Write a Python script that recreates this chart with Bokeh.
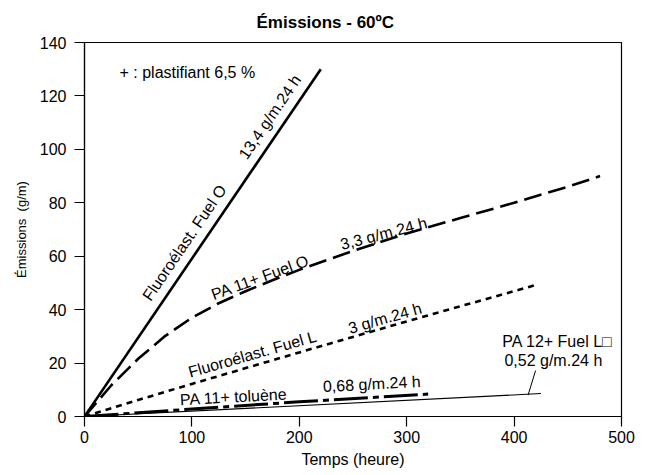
import math
from bokeh.plotting import figure
from bokeh.models import Range1d, FixedTicker
from bokeh.core.properties import value
from bokeh.embed import file_html
from bokeh.resources import INLINE

FONT = "Liberation Sans"

# ---- data ----
x_fluoro_o = [0, 220]
y_fluoro_o = [0, 130]

x_pa11_o = [0, 25, 50, 75, 100, 125, 150, 175, 200, 250, 300, 350, 400, 450, 480]
y_pa11_o = [0, 11.7, 21.6, 30.1, 37, 42.4, 46.9, 51, 54.9, 62, 68.5, 74.3, 80, 86, 90]

x_fluoro_l = [0, 50, 100, 200, 300, 421]
y_fluoro_l = [0, 6.2, 12.2, 24, 35.6, 49.3]

x_pa11_tol = [0, 100, 200, 320]
y_pa11_tol = [0, 2.8, 5.5, 8.4]

x_pa12_l = [0, 425]
y_pa12_l = [0, 8.6]

x_leader = [420, 413]
y_leader = [17.2, 8.0]

x_ticks = [0, 100, 200, 300, 400, 500]
y_ticks = [0, 20, 40, 60, 80, 100, 120, 140]

title_text = "Émissions - 60ºC"
x_label = "Temps (heure)"
y_label = "Émissions \u00a0(g/m)"
note_text = "+ : plastifiant 6,5 %"

# label texts, anchors (data), angles (deg)
lab_text = ["Fluoroélast. Fuel O", "13,4 g/m.24 h", "PA 11+ Fuel O", "3,3 g/m.24 h",
            "Fluoroélast. Fuel L", "3 g/m.24 h", "PA 11+ toluène", "0,68 g/m.24 h",
            "PA 12+ Fuel L\u25a1", "0,52 g/m.24 h", note_text]
lab_x = [57.5, 147, 118.5, 238.5, 97, 246, 89, 222, 389, 391, 32.6]
lab_y = [42.5, 95.5, 44.0, 62.8, 15.0, 31.4, 4.8, 9.7, 26.4, 19.3, 127.1]
lab_deg = [55.8, 55.8, 20.0, 14.5, 16.0, 16.0, 3.0, 3.0, 0, 0, 0]

p = figure(width=637, height=475, output_backend="svg", toolbar_location=None,
           x_range=Range1d(0, 500), y_range=Range1d(0, 140),
           min_border_left=84, min_border_right=16, min_border_top=42,
           min_border_bottom=59, title=title_text)
p.background_fill_color = "white"
p.border_fill_color = "white"
p.outline_line_color = "black"
p.outline_line_width = 1.2
p.grid.visible = False

p.title.align = "left"
p.title.offset = 172
p.title.standoff = 21
p.title.text_font = FONT
p.title.text_font_size = "17px"
p.title.text_font_style = "bold"
p.title.text_color = "black"

for ax in (p.xaxis, p.yaxis):
    ax.major_tick_in = 0
    ax.major_tick_out = 10
    ax.minor_tick_line_color = None
    ax.axis_line_color = "black"
    ax.axis_line_width = 1.2
    ax.major_tick_line_color = "black"
    ax.major_tick_line_width = 1.2
    ax.major_label_text_font = FONT
    ax.major_label_text_font_size = "16px"
    ax.major_label_text_color = "black"
    ax.axis_label_text_font = FONT
    ax.axis_label_text_font_style = "normal"
    ax.axis_label_text_color = "black"

p.xaxis.ticker = FixedTicker(ticks=x_ticks)
p.yaxis.ticker = FixedTicker(ticks=y_ticks)
p.xaxis.major_label_standoff = 4
p.yaxis.major_label_standoff = 8
p.xaxis.axis_label = x_label
p.xaxis.axis_label_text_font_size = "16px"
p.xaxis.axis_label_standoff = 5
p.yaxis.axis_label = y_label
p.yaxis.axis_label_text_font_size = "13px"
p.yaxis.axis_label_standoff = 8

p.line(x_fluoro_o, y_fluoro_o, line_color="black", line_width=2.6)
p.line(x_pa11_o, y_pa11_o, line_color="black", line_width=2.6, line_dash="18 7")
p.line(x_fluoro_l, y_fluoro_l, line_color="black", line_width=2.6, line_dash="6 5")
p.line(x_pa11_tol, y_pa11_tol, line_color="black", line_width=3, line_dash="34 5 6 5")
p.line(x_pa12_l, y_pa12_l, line_color="black", line_width=1.1)
p.line(x_leader, y_leader, line_color="black", line_width=1)

p.text(x=lab_x, y=lab_y, text=lab_text, angle=[math.radians(a) for a in lab_deg],
       text_font=value(FONT), text_font_size="16px", text_color="black",
       text_align="left", text_baseline="alphabetic", y_offset=-4)

open("out.html", "w").write(file_html(p, INLINE))
